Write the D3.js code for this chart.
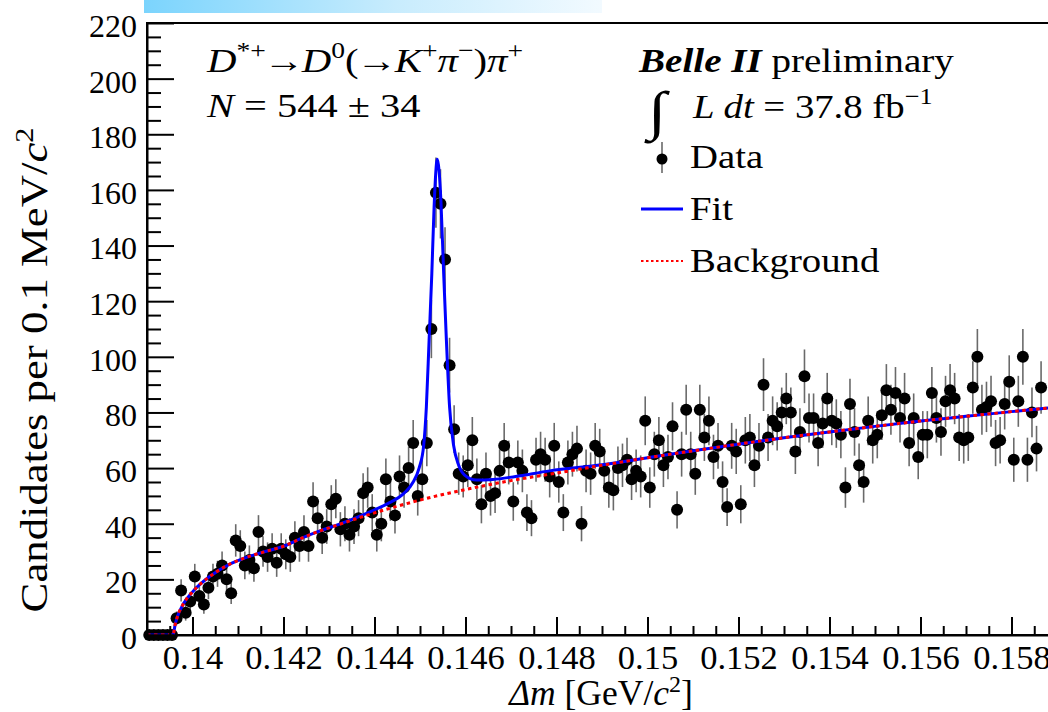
<!DOCTYPE html>
<html>
<head>
<meta charset="utf-8">
<script src="https://cdn.jsdelivr.net/npm/d3@7"></script>
<style>
  html, body { margin: 0; padding: 0; background: #fff; overflow: hidden; }
  svg { display: block; }
  text { font-family: "Liberation Serif", "Times New Roman", serif; fill: #000; }
</style>
</head>
<body>
<svg id="chart" width="1048" height="712"></svg>
<script>
// Δm histogram: 0.1 MeV/c^2 bins starting at 0.139 GeV/c^2
const binStart = 0.139;
const binWidth = 0.0001;
const counts = [
  0, 0, 0, 0, 0, 0, 6, 16, 8, 12,
  21, 14, 11, 17, 21, 22, 25, 20, 15, 34,
  32, 25, 27, 24, 37, 30, 28, 31, 26, 31,
  29, 28, 35, 32, 37, 32, 48, 42, 35, 39,
  47, 49, 38, 40, 36, 39, 42, 51, 53, 44,
  36, 40, 56, 48, 43, 57, 53, 60, 69, 50,
  56, 69, 110, 159, 155, 135, 97, 74, 58, 57,
  61, 70, 56, 47, 58, 50, 51, 59, 68, 62,
  48, 62, 59, 44, 42, 63, 65, 63, 57, 68,
  55, 44, 62, 65, 67, 40, 59, 58, 68, 66,
  59, 53, 52, 60, 61, 63, 56, 59, 57, 77,
  53, 65, 70, 61, 64, 75, 45, 65, 81, 65,
  58, 81, 71, 77, 64, 68, 55, 46, 68, 66,
  47, 70, 71, 61, 68, 90, 71, 77, 75, 80,
  85, 80, 66, 73, 93, 78, 78, 69, 76, 85,
  77, 76, 72, 53, 83, 73, 61, 55, 77, 70,
  72, 79, 88, 81, 87, 78, 85, 69, 78, 64,
  72, 72, 87, 78, 73, 84, 88, 85, 71, 70,
  71, 89, 100, 81, 82, 84, 69, 70, 83, 91,
  63, 84, 100, 63, 80, 67, 89
];

// Background shape (threshold function), sampled along Δm
const bkgX = [0.139, 0.13957, 0.13962, 0.13966, 0.1398, 0.1400, 0.1404, 0.1408, 0.1412, 0.1416,
              0.1420, 0.1424, 0.1428, 0.1432, 0.1436, 0.1440, 0.1445, 0.1450, 0.1455, 0.1460,
              0.1470, 0.1480, 0.1490, 0.1500, 0.1510, 0.1520, 0.1530, 0.1540, 0.1550, 0.1560,
              0.1570, 0.1580, 0.1590, 0.1600];
const bkgY = [0, 0, 3.8, 6.2, 11.2, 15.5, 21.3, 25.3, 28.0, 30.0,
              31.9, 34.8, 37.4, 39.6, 41.8, 43.9, 46.3, 48.5, 50.5, 52.3,
              55.5, 58.2, 61.0, 63.7, 66.2, 68.6, 70.9, 73.0, 75.0, 76.9,
              78.6, 80.3, 81.9, 83.4];

// Total fit (signal peak + background)
const fitX = [0.139, 0.13957, 0.13962, 0.13966, 0.1398, 0.1400, 0.1404, 0.1408, 0.1412, 0.1416,
              0.1420, 0.1424, 0.1428, 0.1432, 0.1436, 0.1440, 0.1443, 0.14465, 0.14485, 0.14498,
              0.14508, 0.14514, 0.14520, 0.14526, 0.14531, 0.14538, 0.14546, 0.14552, 0.14558,
              0.14565, 0.14574, 0.14585, 0.14598, 0.14624, 0.14660, 0.14710, 0.14785, 0.1490,
              0.1500, 0.1510, 0.1520, 0.1530, 0.1540, 0.1550, 0.1560, 0.1570, 0.1580, 0.1590, 0.1600];
const fitY = [0, 0, 3.8, 6.2, 11.2, 15.5, 21.3, 25.3, 28.0, 30.0,
              31.9, 34.8, 37.4, 39.7, 42.2, 45.0, 47.3, 51.0, 55.0, 60.0,
              68.0, 82.0, 106.0, 130.0, 154.0, 171.0, 156.0, 130.0, 106.0,
              82.0, 68.0, 61.0, 57.5, 55.7, 55.9, 57.0, 59.0, 61.2,
              63.7, 66.2, 68.6, 70.9, 73.0, 75.0, 76.9, 78.6, 80.3, 81.9, 83.4];

const yMajorTicks = [0, 20, 40, 60, 80, 100, 120, 140, 160, 180, 200, 220];
const xMajorTicks = [0.14, 0.142, 0.144, 0.146, 0.148, 0.15, 0.152, 0.154, 0.156, 0.158, 0.16];
const xTickLabels = ["0.14", "0.142", "0.144", "0.146", "0.148", "0.15", "0.152", "0.154", "0.156", "0.158", "0.16"];

const svg = d3.select("#chart");
const plotLeft = 147, plotTop = 23, plotBottom = 635;
const x = d3.scaleLinear().domain([0.139, 0.160]).range([plotLeft, plotLeft + 0.021 * 45500]);
const y = d3.scaleLinear().domain([0, 220]).range([plotBottom, plotTop]);
const serif = '"Liberation Serif", "Times New Roman", serif';

// Header colour band
const defs = svg.append("defs");
const grad = defs.append("linearGradient").attr("id", "band").attr("x1", "0%").attr("x2", "100%");
grad.append("stop").attr("offset", "0%").attr("stop-color", "#7bd4fd");
grad.append("stop").attr("offset", "55%").attr("stop-color", "#c8ecfd");
grad.append("stop").attr("offset", "100%").attr("stop-color", "#f2faff");
svg.append("rect").attr("x", 144).attr("y", 0).attr("width", 458).attr("height", 13)
  .attr("fill", "url(#band)");

defs.append("clipPath").attr("id", "plotClip").append("rect")
  .attr("x", plotLeft).attr("y", plotTop).attr("width", x(0.16) - plotLeft).attr("height", plotBottom - plotTop);

// Frame
svg.append("rect").attr("x", plotLeft).attr("y", plotTop)
  .attr("width", x(0.16) - plotLeft).attr("height", plotBottom - plotTop)
  .attr("fill", "none").attr("stroke", "#000").attr("stroke-width", 2);

// Data: error bars and markers
const pts = counts.map((c, i) => ({ m: binStart + (i + 0.5) * binWidth, n: c }));
svg.append("g").selectAll("line").data(pts.filter(d => d.n > 0)).join("line")
  .attr("x1", d => x(d.m)).attr("x2", d => x(d.m))
  .attr("y1", d => y(d.n + Math.sqrt(d.n))).attr("y2", d => y(d.n - Math.sqrt(d.n)))
  .attr("stroke", "#6a6a6a").attr("stroke-width", 1.6);
svg.append("g").selectAll("circle").data(pts).join("circle")
  .attr("cx", d => x(d.m)).attr("cy", d => y(d.n)).attr("r", 6).attr("fill", "#000");

// Fit and background curves
const plot = svg.append("g").attr("clip-path", "url(#plotClip)");
const fitLine = d3.line().x((d, i) => x(fitX[i])).y(d => y(d)).curve(d3.curveMonotoneX);
const bkgLine = d3.line().x((d, i) => x(bkgX[i])).y(d => y(d)).curve(d3.curveMonotoneX);
plot.append("path").attr("d", fitLine(fitY)).attr("fill", "none")
  .attr("stroke", "#0000ff").attr("stroke-width", 3);
plot.append("path").attr("d", bkgLine(bkgY)).attr("fill", "none")
  .attr("stroke", "#ff0000").attr("stroke-width", 3).attr("stroke-dasharray", "3.5,3.5");

// Y axis
const yAxis = svg.append("g").attr("transform", `translate(${plotLeft},0)`)
  .call(d3.axisLeft(y).tickValues(yMajorTicks).tickSize(-27).tickSizeOuter(0).tickPadding(10)
    .tickFormat(d3.format("d")));
svg.append("g").attr("transform", `translate(${plotLeft},0)`)
  .call(d3.axisLeft(y).tickValues(d3.range(0, 221, 5).filter(v => v % 20 !== 0))
    .tickSize(-14).tickSizeOuter(0).tickFormat(""))
  .call(g => g.select(".domain").remove());

// X axis
const xAxis = svg.append("g").attr("transform", `translate(0,${plotBottom})`)
  .call(d3.axisBottom(x).tickValues(xMajorTicks).tickSize(-18).tickSizeOuter(0).tickPadding(10)
    .tickFormat((d, i) => xTickLabels[i]));
const xMinor = d3.range(0, 42).map(k => 0.1395 + k * 0.0005).filter((v, k) => k % 4 !== 1);
svg.append("g").attr("transform", `translate(0,${plotBottom})`)
  .call(d3.axisBottom(x).tickValues(xMinor).tickSize(-9).tickSizeOuter(0).tickFormat(""))
  .call(g => g.select(".domain").remove());

svg.selectAll(".tick line").attr("stroke", "#000").attr("stroke-width", 2);
svg.selectAll(".domain").attr("stroke", "#000").attr("stroke-width", 2);
yAxis.selectAll(".tick text").attr("font-family", serif).attr("font-size", 32).attr("dy", "0.42em");
xAxis.selectAll(".tick text").attr("font-family", serif).attr("font-size", 34.5).attr("dy", "0.7em");

// Text placed at (tx, ty) with a horizontal stretch
function label(tx, ty, sx, size, rot) {
  return svg.append("text")
    .attr("transform", `translate(${tx},${ty})${rot ? " rotate(" + rot + ")" : ""} scale(${sx},1)`)
    .attr("font-size", size);
}

// Axis titles
label(47, 370, 1.21, 37, -90).attr("text-anchor", "middle")
  .call(t => {
    t.append("tspan").text("Candidates per 0.1 MeV/");
    t.append("tspan").attr("font-style", "italic").text("c");
    t.append("tspan").attr("font-size", 25).attr("dy", -14).text("2");
  });
label(601, 705, 1.0, 35.5).attr("text-anchor", "middle")
  .call(t => {
    t.append("tspan").attr("font-style", "italic").text("Δm");
    t.append("tspan").text(" [GeV/");
    t.append("tspan").attr("font-style", "italic").text("c");
    t.append("tspan").attr("font-size", 24).attr("dy", -13).text("2");
    t.append("tspan").attr("dy", 13).text("]");
  });

// Decay channel and signal yield
const sup = (t, s) => t.append("tspan").attr("font-size", 23).attr("dy", -14).text(s);
const down = (t) => t.append("tspan").attr("dy", 14);
label(207, 72, 1.2, 34)
  .call(t => {
    t.append("tspan").attr("font-style", "italic").text("D");
    sup(t, "*+");
    down(t).attr("dx", -2).text("→");
    t.append("tspan").attr("dx", -2).attr("font-style", "italic").text("D");
    sup(t, "0");
    down(t).text("(");
    t.append("tspan").attr("dx", -2).text("→");
    t.append("tspan").attr("dx", -2).attr("font-style", "italic").text("K");
    sup(t, "+");
    down(t).attr("font-style", "italic").text("π");
    sup(t, "−");
    down(t).text(")");
    t.append("tspan").attr("font-style", "italic").text("π");
    sup(t, "+");
  });
label(207, 117, 1.19, 34)
  .call(t => {
    t.append("tspan").attr("font-style", "italic").text("N");
    t.append("tspan").text(" = 544 ± 34");
  });

// Experiment label and legend
label(639, 72, 1.15, 34)
  .call(t => {
    t.append("tspan").attr("font-weight", "bold").attr("font-style", "italic").text("Belle II");
    t.append("tspan").text(" preliminary");
  });
label(648, 129, 1.25, 54).attr("font-style", "italic").text("∫");
label(693, 118, 1.14, 34)
  .call(t => {
    t.append("tspan").attr("font-style", "italic").text("L dt");
    t.append("tspan").text(" = 37.8 fb");
    t.append("tspan").attr("font-size", 23).attr("dy", -14).text("−1");
  });

const legend = svg.append("g");
legend.append("line").attr("x1", 662).attr("x2", 662).attr("y1", 142).attr("y2", 173)
  .attr("stroke", "#6a6a6a").attr("stroke-width", 1.6);
legend.append("circle").attr("cx", 662).attr("cy", 159).attr("r", 5.5).attr("fill", "#000");
label(690, 168, 1.14, 34).text("Data");
legend.append("line").attr("x1", 641).attr("x2", 683).attr("y1", 209).attr("y2", 209)
  .attr("stroke", "#0000ff").attr("stroke-width", 3);
label(690, 220, 1.14, 34).text("Fit");
legend.append("line").attr("x1", 641).attr("x2", 683).attr("y1", 261).attr("y2", 261)
  .attr("stroke", "#ff0000").attr("stroke-width", 2).attr("stroke-dasharray", "2.5,2.5");
label(690, 272, 1.14, 34).text("Background");
</script>
</body>
</html>
